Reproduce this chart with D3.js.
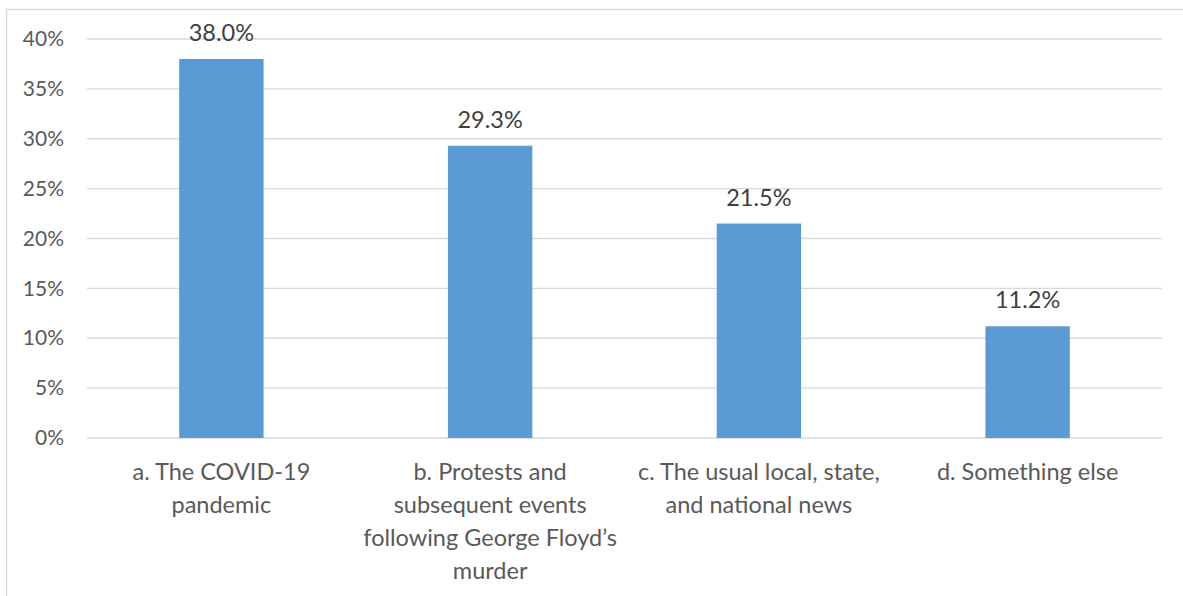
<!DOCTYPE html>
<html><head><meta charset="utf-8">
<script src="https://cdn.jsdelivr.net/npm/d3@7/dist/d3.min.js"></script>
<style>body{margin:0;background:#fff;}svg{display:block;}</style>
</head><body>
<svg id="chart" width="1183" height="596"></svg>
<script>
const categories = [
  ["a. The COVID-19", "pandemic"],
  ["b. Protests and", "subsequent events", "following George Floyd’s", "murder"],
  ["c. The usual local, state,", "and national news"],
  ["d. Something else"]
];
const values = [38.0, 29.3, 21.5, 11.2];
const yTicks = [0, 5, 10, 15, 20, 25, 30, 35, 40];

const svg = d3.select("#chart");
const font = "Lato, 'Open Sans', sans-serif";
const margin = {left: 87, right: 1162, top: 39, bottom: 438};

// border
svg.append("rect").attr("x", 6.5).attr("y", 9.5).attr("width", 1190).attr("height", 600)
  .attr("fill", "none").attr("stroke", "#d9d9d9").attr("stroke-width", 1.5);

const x = d3.scaleBand().domain(d3.range(values.length)).range([margin.left, margin.right]).paddingInner(0.686).paddingOuter(0.343);
const y = d3.scaleLinear().domain([0, 40]).range([margin.bottom, margin.top]);

// gridlines
svg.append("g").selectAll("line").data(yTicks).join("line")
  .attr("x1", margin.left).attr("x2", margin.right)
  .attr("y1", d => y(d)).attr("y2", d => y(d))
  .attr("stroke", "#d9d9d9").attr("stroke-width", 1.3);

// y axis labels
const yAxis = d3.axisLeft(y).tickValues(yTicks).tickFormat(d => d + "%").tickSize(0).tickPadding(23);
const ga = svg.append("g").attr("transform", `translate(${margin.left},0)`).call(yAxis);
ga.select(".domain").remove();
ga.selectAll("text").attr("fill", "#595959").style("font-family", font).style("font-size", "21px");

// bars
svg.append("g").selectAll("rect").data(values).join("rect")
  .attr("x", (d, i) => x(i)).attr("width", x.bandwidth())
  .attr("y", d => y(d)).attr("height", d => y(0) - y(d))
  .attr("fill", "#5b9bd5");

// value labels
svg.append("g").selectAll("text").data(values).join("text")
  .attr("x", (d, i) => x(i) + x.bandwidth() / 2)
  .attr("y", d => y(d) - 18)
  .attr("text-anchor", "middle").attr("fill", "#404040")
  .style("font-family", font).style("font-size", "23.5px")
  .text(d => d.toFixed(1) + "%");

// category labels
const full = d3.scaleBand().domain(d3.range(values.length)).range([margin.left, margin.right]);
const cg = svg.append("g").selectAll("text").data(categories).join("text")
  .attr("text-anchor", "middle").attr("fill", "#595959")
  .style("font-family", font).style("font-size", "23.5px");
cg.selectAll("tspan").data((d, i) => d.map(t => ({t, i}))).join("tspan")
  .attr("x", d => full(d.i) + full.bandwidth() / 2)
  .attr("y", (d, j) => 480 + j * 33)
  .text(d => d.t);
</script>
</body></html>
